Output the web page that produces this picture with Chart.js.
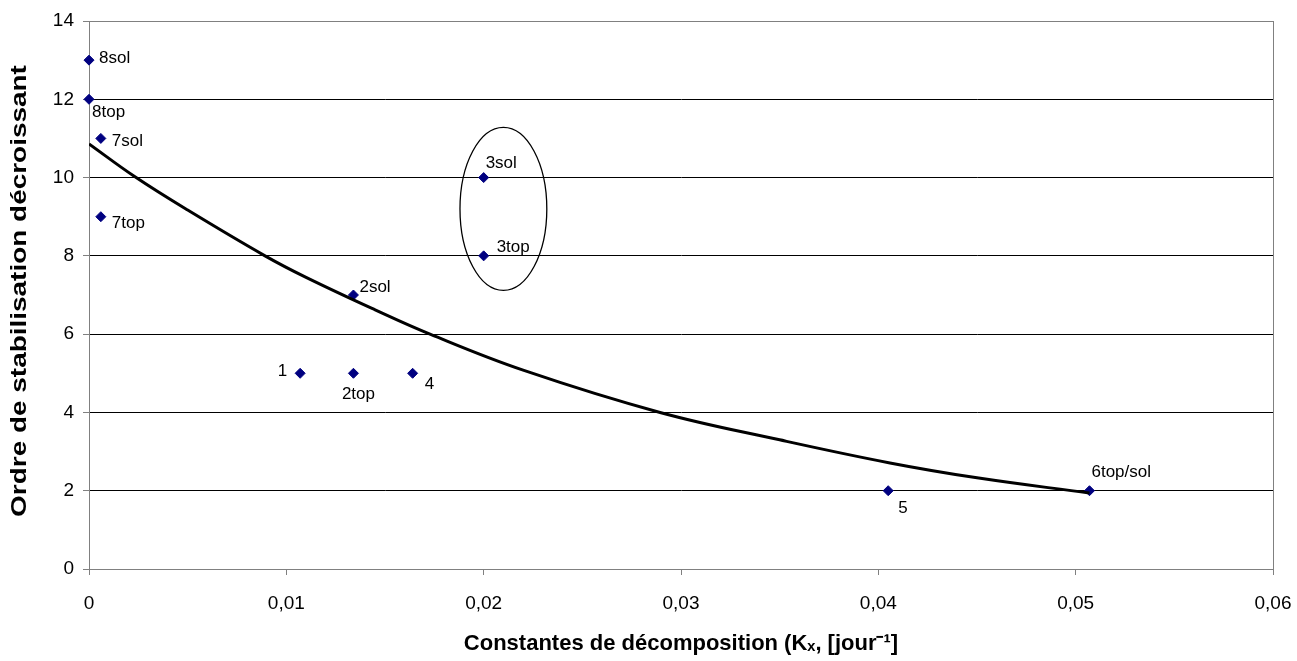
<!DOCTYPE html>
<html>
<head>
<meta charset="utf-8">
<script src="https://cdn.jsdelivr.net/npm/chart.js@4"></script>
<style>
  html, body { margin: 0; padding: 0; background: #fff; }
  #wrap { width: 1297px; height: 661px; }
</style>
</head>
<body>
<div id="wrap"><canvas id="kxChart" width="1297" height="661"></canvas></div>
<script>
// measured points (Kx, ordre)
const pointNames = ["8sol", "8top", "7sol", "7top", "1", "2top", "2sol", "4", "3sol", "3top", "5", "6top/sol"];
const kxValues = [0, 0, 0.0006, 0.0006, 0.0107, 0.0134, 0.0134, 0.0164, 0.0200, 0.0200, 0.0405, 0.0507];
const orderValues = [13, 12, 11, 9, 5, 5, 7, 5, 10, 8, 2, 2];

// trend curve
const trendKx = [0, 0.00233, 0.005, 0.00892, 0.011, 0.0145, 0.01728, 0.022, 0.02894, 0.035, 0.04059, 0.045, 0.0507];
const trendOrder = [10.86, 10.02, 9.17, 8.0, 7.45, 6.62, 6.0, 5.08, 4.0, 3.3, 2.71, 2.33, 1.94];

// circled group (3sol / 3top)
const ringCenter = [0.0210, 9.2];
const ringRadius = [0.0022, 2.08];

const yTitle = "Ordre de stabilisation décroissant";
const xTitle = "Constantes de décomposition (Kₓ, [jour⁻¹]";

// label placement: [dx, dy, align] in pixels from the point
const labelOffsets = [
  [10, -2, "left"], [3, 13, "left"], [11, 3, "left"], [11, 7, "left"],
  [-13, -2, "right"], [5, 21, "center"], [6, -8, "left"], [12, 11, "left"],
  [2, -14, "left"], [13, -9, "left"], [10, 18, "left"], [2, -18, "left"]
];

const pts = kxValues.map((x, i) => ({ x, y: orderValues[i] }));
const trend = trendKx.map((x, i) => ({ x, y: trendOrder[i] }));

const FONT = "'Liberation Sans', Arial, sans-serif";

const extras = {
  id: "extras",
  beforeDatasetsDraw(chart) {
    const { ctx, chartArea: a } = chart;
    ctx.save();
    ctx.strokeStyle = "#808080";
    ctx.lineWidth = 1;
    ctx.strokeRect(a.left + 0.5, a.top + 0.5, a.right - a.left, a.bottom - a.top);
    ctx.restore();
  },
  afterDatasetsDraw(chart) {
    const { ctx, chartArea: a, scales: { x, y } } = chart;
    ctx.save();
    // ellipse
    const cx = x.getPixelForValue(ringCenter[0]);
    const cy = y.getPixelForValue(ringCenter[1]);
    const rx = x.getPixelForValue(ringCenter[0] + ringRadius[0]) - cx;
    const ry = cy - y.getPixelForValue(ringCenter[1] + ringRadius[1]);
    ctx.beginPath();
    ctx.ellipse(cx, cy, rx, ry, 0, 0, Math.PI * 2);
    ctx.strokeStyle = "#000";
    ctx.lineWidth = 1.3;
    ctx.stroke();

    // point labels
    ctx.fillStyle = "#000";
    ctx.font = "17px " + FONT;
    ctx.textBaseline = "middle";
    const meta = chart.getDatasetMeta(1);
    meta.data.forEach((el, i) => {
      const off = labelOffsets[i];
      ctx.textAlign = off[2];
      ctx.fillText(pointNames[i], el.x + off[0], el.y + off[1]);
    });

    // y title, stretched along its length like the original
    ctx.translate(20, (a.top + a.bottom) / 2 - 4);
    ctx.rotate(-Math.PI / 2);
    ctx.scale(1.27, 1);
    ctx.font = "bold 22px " + FONT;
    ctx.textAlign = "center";
    ctx.fillText(yTitle, 0, 0);
    ctx.restore();
  }
};

new Chart(document.getElementById("kxChart"), {
  type: "scatter",
  data: {
    datasets: [
      {
        label: "tendance",
        type: "line",
        data: trend,
        borderColor: "#000",
        borderWidth: 3,
        pointRadius: 0,
        fill: false,
        tension: 0.4
      },
      {
        label: "Ordre",
        data: pts,
        clip: false,
        pointStyle: "rectRot",
        pointRadius: 5,
        pointHoverRadius: 5,
        backgroundColor: "#000080",
        borderColor: "#000080",
        borderWidth: 1
      }
    ]
  },
  options: {
    responsive: false,
    animation: false,
    events: [],
    layout: { padding: { left: 0, top: 21, right: 24, bottom: 0 } },
    plugins: { legend: { display: false }, tooltip: { enabled: false } },
    scales: {
      x: {
        type: "linear",
        min: 0,
        max: 0.06,
        afterFit(s) { s.height = 92; s.paddingLeft = 0; s.paddingRight = 0; },
        ticks: {
          stepSize: 0.01,
          color: "#000",
          font: { family: FONT, size: 19 },
          padding: 17,
          callback: v => (v === 0 ? "0" : v.toFixed(2).replace(".", ","))
        },
        grid: { drawOnChartArea: false, color: "#808080", tickColor: "#808080", tickLength: 6 },
        border: { color: "#808080", width: 1 },
        title: {
          display: true,
          text: xTitle,
          color: "#000",
          font: { family: FONT, size: 22, weight: "bold" },
          padding: { top: 0, bottom: 4 }
        }
      },
      y: {
        min: 0,
        max: 14,
        afterFit(s) { s.width = 89; s.paddingTop = 0; s.paddingBottom = 0; },
        ticks: {
          stepSize: 2,
          color: "#000",
          font: { family: FONT, size: 19 },
          padding: 9
        },
        grid: { color: "#000", lineWidth: 1, tickColor: "#808080", tickLength: 6 },
        border: { color: "#808080", width: 1 }
      }
    }
  },
  plugins: [extras]
});
</script>
</body>
</html>
